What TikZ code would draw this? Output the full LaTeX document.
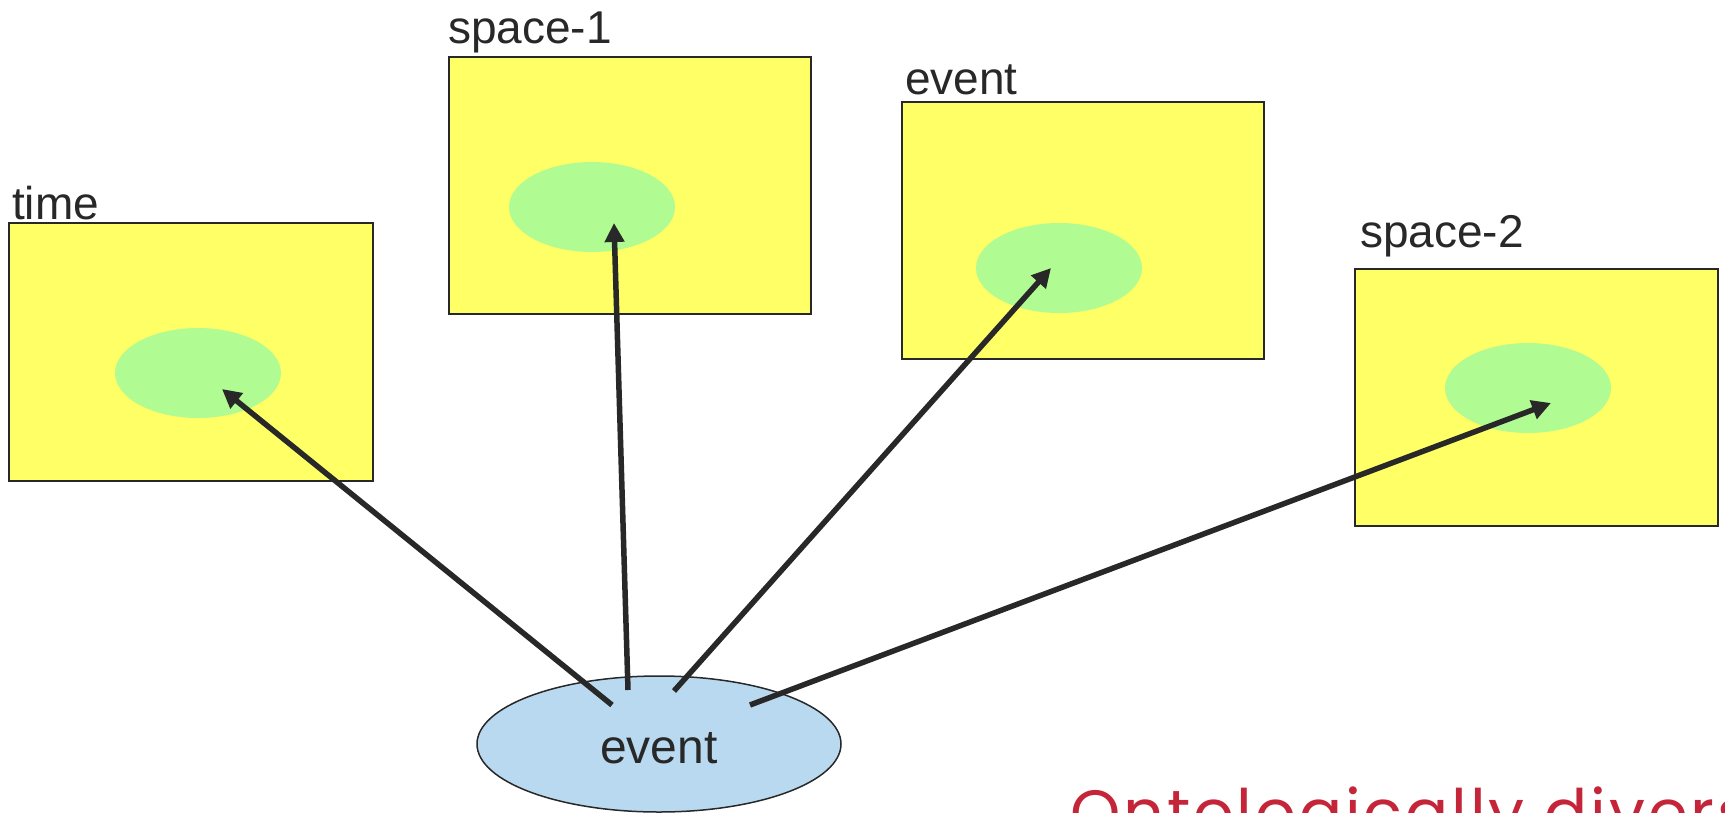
\documentclass[tikz,border=0pt]{standalone}
\usepackage{fontspec}
\setmainfont{Liberation Sans}
\newfontfamily\redfont{Poppins}[LetterSpace=4.4]
\usetikzlibrary{arrows.meta}
\definecolor{boxyellow}{RGB}{255,255,102}
\definecolor{spotgreen}{RGB}{176,252,146}
\definecolor{evblue}{RGB}{185,217,240}
\definecolor{inkgrey}{RGB}{40,40,40}
\definecolor{titlered}{RGB}{197,37,56}
\tikzset{
  ybox/.style={draw=inkgrey, line width=1.5pt, fill=boxyellow, anchor=north west, inner sep=0pt, minimum width=#1},
  spot/.style={ellipse, fill=spotgreen, minimum width=166pt, minimum height=90pt, inner sep=0pt},
  lbl/.style={anchor=base west, inner sep=0pt, text=inkgrey, font=\fontsize{46}{50}\selectfont},
  link/.style={draw=inkgrey, line width=5.5pt, -{Triangle[length=19pt,width=19pt]}},
}
\usetikzlibrary{shapes.geometric}
\begin{document}
\begin{tikzpicture}[x=1pt,y=-1pt]
\useasboundingbox (0,0) rectangle (1725,812);
% yellow boxes
\node[ybox=364pt, minimum height=258pt] (tbox) at (8,222) {};
\node[ybox=362pt, minimum height=257pt] (s1box) at (448,56) {};
\node[ybox=362pt, minimum height=257pt] (ebox) at (901,101) {};
\node[ybox=363pt, minimum height=257pt] (s2box) at (1354,268) {};
% green spots
\node[spot] (tspot) at (198,373) {};
\node[spot] (s1spot) at (592,207) {};
\node[spot] (espot) at (1059,268) {};
\node[spot] (s2spot) at (1528,388) {};
% labels
\node[lbl] (tlbl) at (12,219) {time};
\node[lbl] (s1lbl) at (448,43) {space-1};
\node[lbl] (elbl) at (905,94) {event};
\node[lbl] (s2lbl) at (1360,247) {space-2};
% event ellipse
\node[ellipse, draw=inkgrey, line width=1.5pt, fill=evblue, minimum width=364pt, minimum height=136pt, inner sep=0pt] (ev) at (659,744) {};
\node[anchor=base, inner sep=0pt, text=inkgrey, font=\fontsize{48}{52}\selectfont] (evlbl) at (659,763) {event};
% arrow ends
\coordinate (a1) at (612,705);
\coordinate (a2) at (628,690);
\coordinate (a3) at (674,691);
\coordinate (a4) at (750,705);
\coordinate (t1) at (222,389);
\coordinate (t2) at (614,223);
\coordinate (t3) at (1051,268);
\coordinate (t4) at (1551,403);
\draw[link] (a1) -- (t1);
\draw[link] (a2) -- (t2);
\draw[link] (a3) -- (t3);
\draw[link] (a4) -- (t4);
% red title (cut by the page edge, as in the reference)
\node[anchor=base west, inner sep=0pt, text=titlered, font=\redfont\fontsize{64}{70}\selectfont] (title) at (1070,835) {Ontologically diverse};
\end{tikzpicture}
\end{document}
